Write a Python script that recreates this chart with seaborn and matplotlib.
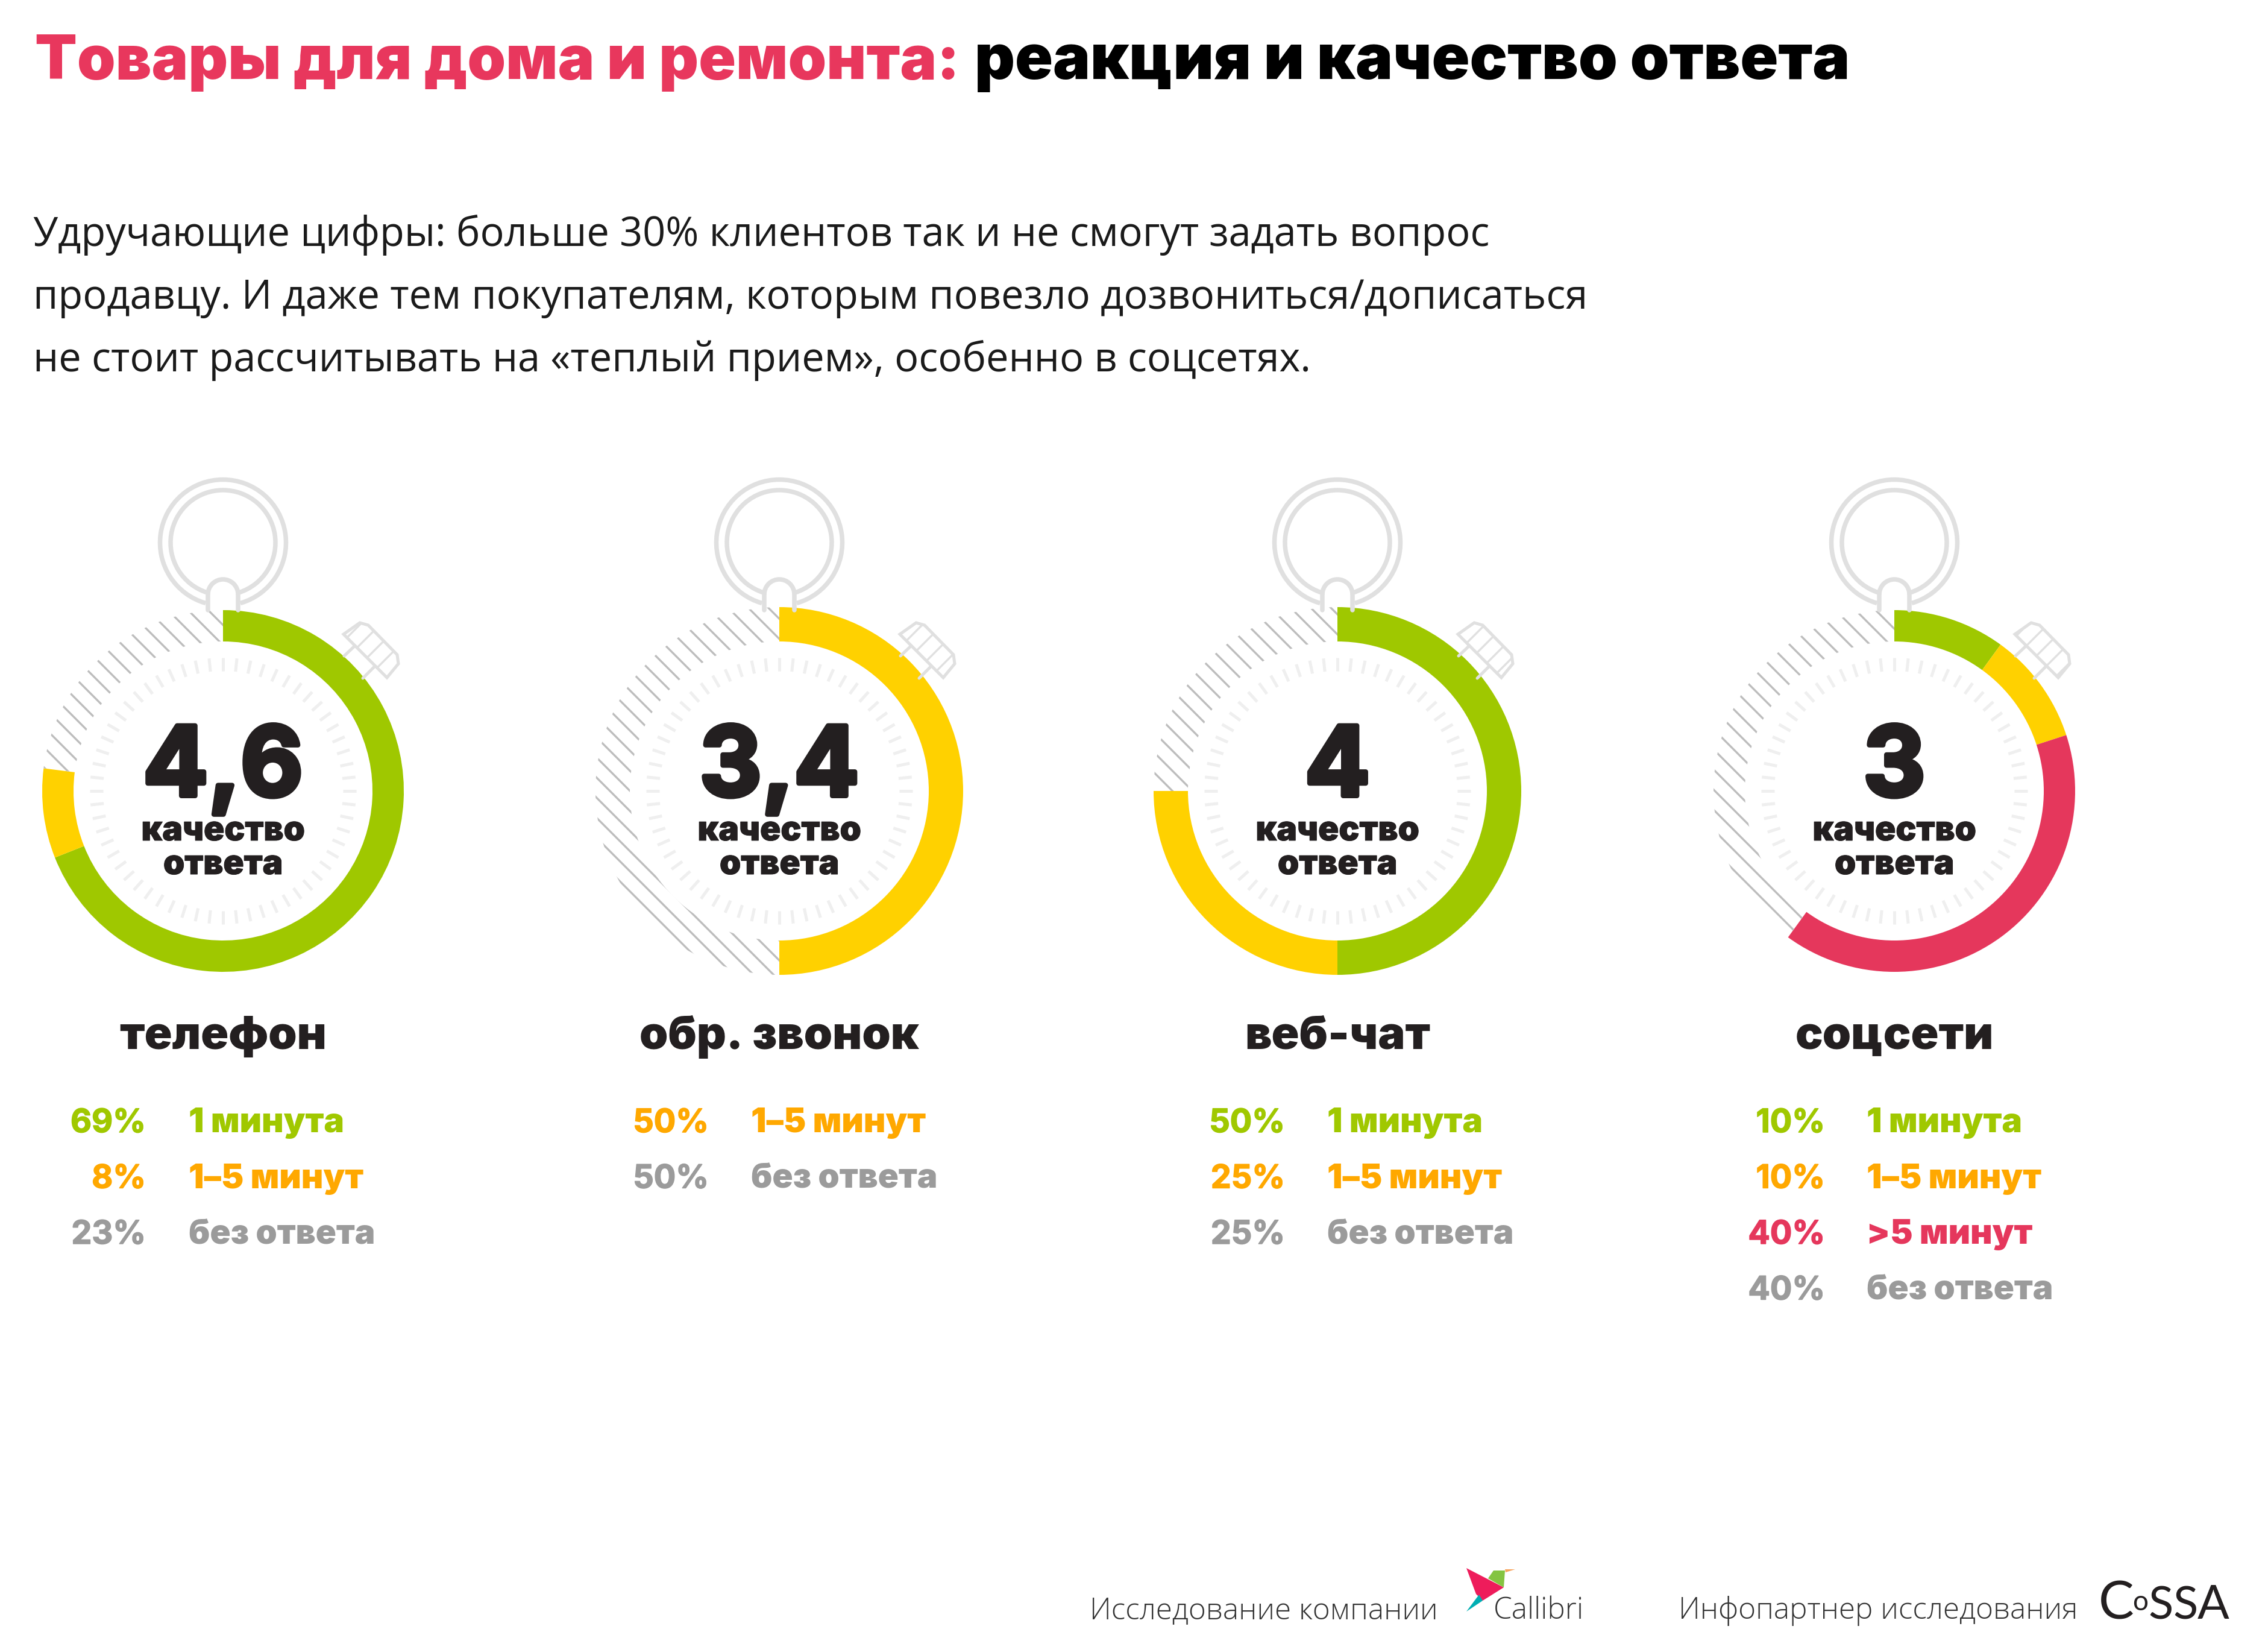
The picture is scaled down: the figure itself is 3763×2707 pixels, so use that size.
"""Stopwatch rings: response time and answer quality by contact channel."""

import numpy as np
import matplotlib

matplotlib.use("Agg")
import matplotlib.pyplot as plt
import matplotlib.patheffects as pe
import seaborn as sns
from matplotlib.collections import LineCollection
from matplotlib.patches import Arc, Polygon

W, H = 3763, 2707
DPI = 300

# Data
channels = ["телефон", "обр. звонок", "веб-чат", "соцсети"]
quality = ["4,6", "3,4", "4", "3"]
phone_shares = [69, 8, 23]
callback_shares = [50, 50]
webchat_shares = [50, 25, 25]
social_shares = [10, 10, 40, 40]
phone_labels = ["1 минута", "1–5 минут", "без ответа"]
callback_labels = ["1–5 минут", "без ответа"]
webchat_labels = ["1 минута", "1–5 минут", "без ответа"]
social_labels = ["1 минута", "1–5 минут", ">5 минут", "без ответа"]

shares = [phone_shares, callback_shares, webchat_shares, social_shares]
labels = [phone_labels, callback_labels, webchat_labels, social_labels]

# Layout, pixels of the final image
centers_x = [370, 1293, 2219, 3143]
center_y = 1312
ring_radius = [300, 305, 305, 300]
pct_right = [242, 1176, 2132, 3028]
label_left = [313, 1246, 2202, 3097]

sns.set_theme(style="white")
plt.rcParams["hatch.linewidth"] = 0.8

GREEN, YELLOW, RED = sns.color_palette(["#9fc800", "#ffd100", "#e5375c"])
INK = "#231f20"
GREY_LINE = "#e0e0e0"
HEAVY = "Inter"

ring_colors = {"1 минута": GREEN, "1–5 минут": YELLOW, ">5 минут": RED}
text_colors = {
    "1 минута": "#a0c800",
    "1–5 минут": "#ffa800",
    ">5 минут": "#e5375c",
    "без ответа": "#9b9b9b",
}


def pt(px):
    return px * 72 / DPI


def heavy_text(ax, x, y, s, size, color=INK, ha="center", stroke=0, weight="black"):
    t = ax.text(x, y, s, fontsize=pt(size), color=color, ha=ha, va="baseline",
                family=HEAVY, fontweight=weight)
    if stroke:
        t.set_path_effects([pe.withStroke(linewidth=pt(stroke), foreground=color)])
    return t


def draw_watch_body(ax, cx, cy):
    """Crown, stem, side button and minute ticks of one stopwatch."""
    lw = pt(7.5)
    crown_y = cy - 412
    # the y axis runs downward, so theta 90 is the bottom of the crown
    ax.add_patch(Arc((cx, crown_y), 209, 209, theta1=106, theta2=434, color=GREY_LINE, lw=lw))
    ax.add_patch(Arc((cx, crown_y), 174, 174, theta1=108, theta2=432, color=GREY_LINE, lw=lw))
    ax.add_patch(Arc((cx, cy - 326), 50, 50, theta1=180, theta2=360, color=GREY_LINE, lw=lw))
    for dx in (-25, 25):
        ax.plot([cx + dx, cx + dx], [cy - 326, cy - 300], color=GREY_LINE, lw=lw,
                solid_capstyle="round")

    button = [(200, -260), (227, -279), (241, -275), (289, -226), (291, -211), (272, -188)]
    ax.add_patch(Polygon([(cx + a, cy + b) for a, b in button], closed=True, facecolor="none",
                         edgecolor=GREY_LINE, lw=pt(5), hatch="///"))
    for seg in ([(201, -224), (219, -241)], [(232, -187), (252, -207)]):
        ax.plot([cx + seg[0][0], cx + seg[1][0]], [cy + seg[0][1], cy + seg[1][1]],
                color=GREY_LINE, lw=pt(5))

    angles = np.deg2rad(np.arange(60) * 6)
    ticks = [[(cx + 199 * np.cos(a), cy + 199 * np.sin(a)),
              (cx + 221 * np.cos(a), cy + 221 * np.sin(a))] for a in angles]
    ax.add_collection(LineCollection(ticks, colors="#efefef", linewidths=pt(5)))


fig = plt.figure(figsize=(W / DPI, H / DPI), dpi=DPI, facecolor="white")
ax = fig.add_axes([0, 0, 1, 1])

for i, channel in enumerate(channels):
    cx = centers_x[i]
    draw_watch_body(ax, cx, center_y)

    colors = [ring_colors.get(lab, "none") for lab in labels[i]]
    hatches = [None if lab != "без ответа" else "\\\\\\" for lab in labels[i]]
    radius = ring_radius[i]
    wedges, _ = ax.pie(
        shares[i],
        colors=colors,
        hatch=hatches,
        center=(cx, center_y),
        radius=radius,
        startangle=-90,
        counterclock=True,
        wedgeprops={"width": radius - 248, "linewidth": 0},
    )
    wedges[-1].set_edgecolor("#bdbdbd")
    wedges[-1].set_facecolor("none")

    heavy_text(ax, cx, 1320, quality[i], 160, stroke=8, weight="bold")
    heavy_text(ax, cx, 1394, "качество", 56.5, stroke=1)
    heavy_text(ax, cx, 1450, "ответа", 56.5, stroke=1)
    heavy_text(ax, cx, 1740, channel, 76)

    for row, (share, lab) in enumerate(zip(shares[i], labels[i])):
        y = 1878 + row * 92.5
        heavy_text(ax, pct_right[i], y, f"{share}%", 54, color=text_colors[lab], ha="right",
                   stroke=1.5, weight="bold")
        heavy_text(ax, label_left[i], y, lab, 56.5, color=text_colors[lab], ha="left")

# Title
heavy_text(ax, 58, 131, "Товары для дома и ремонта:", 102, color="#e8375d", ha="left")
heavy_text(ax, 1617, 131, "реакция и качество ответа", 104, color="black", ha="left")

# Intro text
intro = [
    "Удручающие цифры: больше 30% клиентов так и не смогут задать вопрос",
    "продавцу. И даже тем покупателям, которым повезло дозвониться/дописаться",
    "не стоит рассчитывать на «теплый прием», особенно в соцсетях.",
]
for line, y in zip(intro, [408, 512, 616]):
    ax.text(55, y, line, fontsize=pt(66.7), family="Open Sans", color="#1a1a1a", va="baseline")

# Footer
for x, s in [(1808, "Исследование компании"), (2478, "Callibri"), (2785, "Инфопартнер исследования")]:
    ax.text(x, 2685, s, fontsize=pt(49.5), family="Open Sans", fontweight="light",
            color="#333333", va="baseline")
ax.add_patch(Polygon([(2433, 2601), (2495, 2633), (2460, 2655), (2449, 2644)], color="#ee1c5b", lw=0))
ax.add_patch(Polygon([(2478, 2605), (2497, 2605), (2495, 2633), (2469, 2618)], color="#84c441", lw=0))
ax.add_patch(Polygon([(2497, 2603), (2514, 2603), (2498, 2608)], color="#f7a35c", lw=0))
ax.add_patch(Polygon([(2454, 2645), (2460, 2655), (2433, 2673)], color="#00aeb3", lw=0))

# CoSSA logo letters
for x, y, s, size in [(3482, 2685, "C", 88), (3538, 2671, "o", 46), (3564, 2685, "S", 76),
                      (3605, 2685, "S", 76), (3646, 2685, "A", 78)]:
    ax.text(x, y, s, fontsize=pt(size), family="Lato", color=INK, va="baseline")

ax.set_xlim(0, W)
ax.set_ylim(H, 0)
ax.set_aspect("equal")
ax.axis("off")

fig.savefig("out.png", dpi=DPI, facecolor="white")
plt.close(fig)
